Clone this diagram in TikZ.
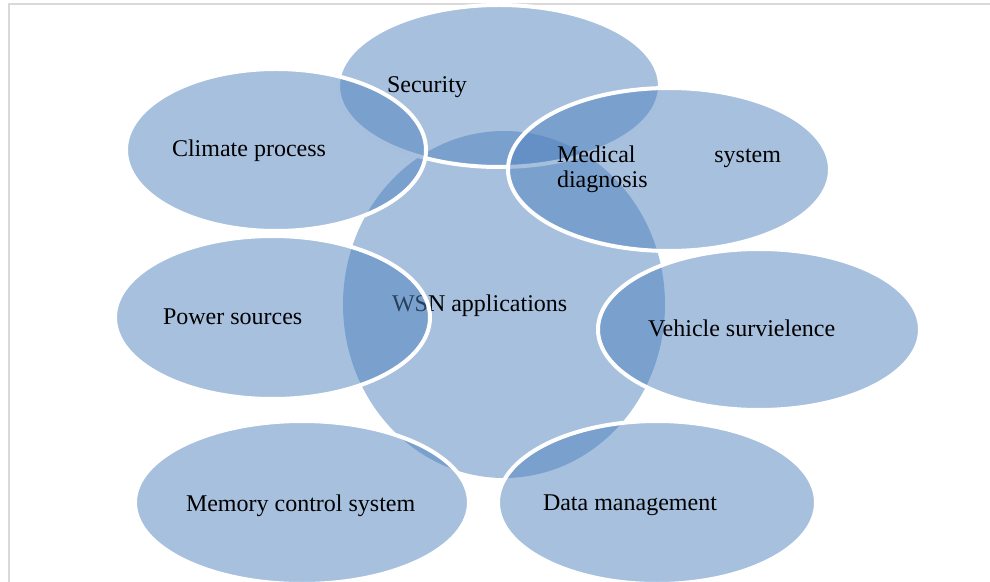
\documentclass[tikz,border=0pt]{standalone}
\usepackage{fontspec}
\setmainfont{Liberation Serif}
\usetikzlibrary{shapes.geometric}
\definecolor{accent}{RGB}{79,129,189}
\definecolor{framegray}{RGB}{217,217,217}
\begin{document}
\begin{tikzpicture}[x=0.5pt,y=-0.5pt,
  blob/.style={ellipse, inner sep=0pt, outer sep=0pt, fill=accent, fill opacity=0.5, draw=white, draw opacity=1, line width=2pt},
  hub/.style={ellipse, inner sep=0pt, outer sep=0pt, fill=accent, fill opacity=0.5},
  lbl/.style={anchor=base west, inner sep=0pt, outer sep=0pt, font=\fontsize{12}{12.5}\selectfont, text=black}]
\useasboundingbox (0,0) rectangle (990,582);
\draw[framegray, line width=0.75pt] (9,600) -- (9,4) -- (1000,4);
% centre
\node[hub, minimum width=161pt, minimum height=173.5pt] (wsn) at (504,304.5) {};
\node[lbl] (wsnT) at (392,312) {WSN applications};
% outer shapes, clockwise from the top
\node[blob, minimum width=161pt, minimum height=81pt] (sec) at (499,86) {};
\node[lbl] (secT) at (387,93) {Security};
\node[blob, minimum width=161pt, minimum height=81.5pt] (med) at (669,169.5) {};
\node[lbl] (medT) at (557,163) {\parbox[t]{112pt}{Medical\hfill system\\diagnosis}};
\node[blob, minimum width=161pt, minimum height=80.5pt] (veh) at (759,329.5) {};
\node[lbl] (vehT) at (648,337) {Vehicle survielence};
\node[blob, minimum width=159pt, minimum height=81.5pt] (dat) at (657,502.5) {};
\node[lbl] (datT) at (543,510) {Data management};
\node[blob, minimum width=167pt, minimum height=81.5pt] (mem) at (302,502.5) {};
\node[lbl] (memT) at (186,511) {Memory control system};
\node[blob, minimum width=157.5pt, minimum height=81.5pt] (pow) at (272.5,317.5) {};
\node[lbl] (powT) at (163,325) {Power sources};
\node[blob, minimum width=150pt, minimum height=81pt] (cli) at (276,150) {};
\node[lbl] (cliT) at (172,157) {Climate process};
\end{tikzpicture}
\end{document}
